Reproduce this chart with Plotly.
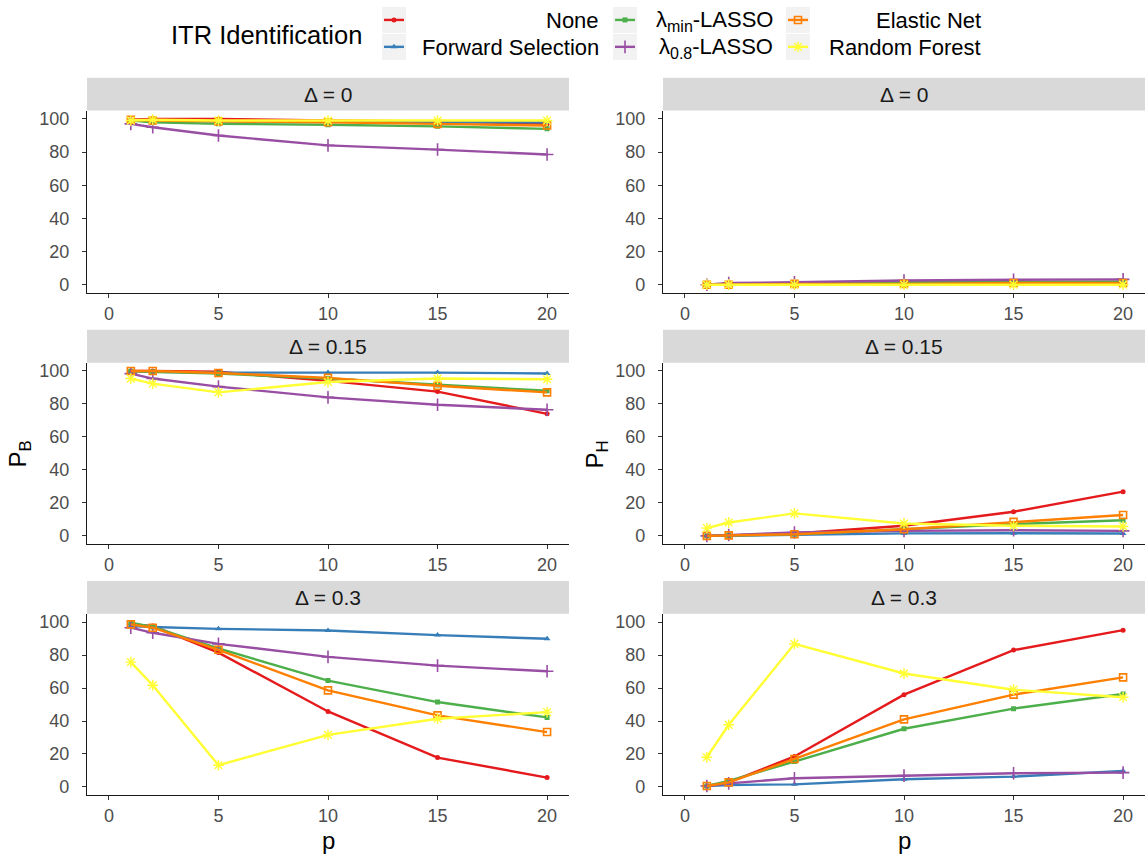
import plotly.graph_objects as go

# Number of covariates on the x axis
p_values = [1, 2, 5, 10, 15, 20]

methods = ["None", "Forward Selection",
           "λ<sub><span style='font-size:16px'>min</span></sub>-LASSO",
           "λ<sub><span style='font-size:16px'>0.8</span></sub>-LASSO",
           "Elastic Net", "Random Forest"]
colors = ["#E41A1C", "#377EB8", "#4DAF4A", "#984EA3", "#FF7F00", "#FFFF33"]
strip_labels = ["Δ = 0", "Δ = 0.15", "Δ = 0.3"]
x_ticks = [0, 5, 10, 15, 20]
y_ticks = [0, 20, 40, 60, 80, 100]

# P_B, one row per method (order as in `methods`)
pb_delta_0 = [
    [99.5, 100, 100, 99, 98.5, 97],
    [99, 99, 98.5, 98.5, 98, 98],
    [99, 98, 97, 96.5, 95.5, 94],
    [97, 95, 90, 84, 81.5, 78.5],
    [99.5, 99, 98.5, 98, 97, 96],
    [99, 99.5, 99, 99, 99, 99],
]
pb_delta_015 = [
    [100, 100, 99.5, 94, 87.5, 74],
    [100, 99.5, 99, 99, 99, 98.5],
    [99.8, 99.4, 98.4, 95.4, 91.5, 88],
    [98.4, 95.4, 90.5, 84, 79.5, 76.5],
    [100, 100, 98.8, 95.8, 91, 87],
    [95.4, 92.3, 87, 93.3, 95.4, 95],
]
pb_delta_03 = [
    [98.6, 97.6, 81.5, 45.8, 17.8, 5.7],
    [97.6, 97, 95.9, 94.9, 92.1, 89.9],
    [99.6, 97, 84, 64.5, 51.5, 42.2],
    [96.6, 93.5, 86.8, 78.9, 73.6, 70.2],
    [98.6, 96.6, 83.2, 58.6, 43.4, 33.3],
    [75.7, 61.7, 13.2, 31.6, 41.4, 45.4],
]

# P_H, one row per method
ph_delta_0 = [
    [0, 0, 0, 0, 0.3, 0.5],
    [0, 0, 0.5, 0.5, 0.5, 1],
    [0, 0.5, 1, 1.5, 1.5, 2],
    [0, 1, 1.5, 2.5, 3, 3.2],
    [0, 0, 0.5, 0.5, 1, 1],
    [0, 0, 0, 0, 0, 0],
]
ph_delta_015 = [
    [0, 0.4, 1.4, 6.1, 14.6, 26.8],
    [0, 0, 0.6, 1.5, 1.6, 1.4],
    [0, 0.3, 1, 4, 7.1, 9.5],
    [0, 0.5, 2, 3, 3.4, 3],
    [0, 0.3, 1, 4, 8.5, 12.6],
    [4.7, 8.1, 13.6, 7.5, 6.1, 5.7],
]
ph_delta_03 = [
    [0.6, 2.8, 18.5, 56, 83, 95.1],
    [0.6, 1.2, 1.6, 4.7, 6.3, 9.7],
    [0.6, 3.7, 15.4, 35.3, 47.5, 56.4],
    [0.6, 2.2, 5.3, 6.9, 8.3, 8.7],
    [0.6, 2.8, 17, 41, 56, 66.5],
    [18, 37.7, 86.8, 68.8, 59, 54.4],
]

panels = [pb_delta_0, ph_delta_0, pb_delta_015, ph_delta_015, pb_delta_03, ph_delta_03]

markers = [
    dict(symbol="circle", size=5),
    dict(symbol="triangle-up", size=6),
    dict(symbol="square", size=5),
    dict(symbol="cross-thin", size=9, line=dict(width=1.6)),
    dict(symbol="square-open", size=7, line=dict(width=1.6)),
    dict(symbol="asterisk", size=9, line=dict(width=1.4)),
]

W, H = 1147, 857
font_family = "Liberation Sans, Arial, sans-serif"

# panel geometry in pixels
col_px = [(87, 569), (663, 1145)]
row_px = [(110, 293), (363, 545), (615, 797)]
strip_h = 33


def px(x):
    return x / W


def py(y):
    return 1 - y / H


def marker_style(m):
    mk = dict(markers[m])
    mk["color"] = colors[m]
    if "line" in mk:
        mk["line"] = dict(mk["line"], color=colors[m])
    return mk


fig = go.Figure()
layout = dict(
    width=W, height=H,
    margin=dict(l=0, r=0, t=0, b=0),
    paper_bgcolor="white", plot_bgcolor="rgba(0,0,0,0)",
    showlegend=False,
    font=dict(family=font_family),
)
shapes = []
annotations = []

for i, data in enumerate(panels):
    r, c = divmod(i, 2)
    k = i + 1
    xa = "x" if k == 1 else f"x{k}"
    ya = "y" if k == 1 else f"y{k}"
    x0, x1 = col_px[c]
    y0, y1 = row_px[r]
    axis_common = dict(
        showline=True, linecolor="#1A1A1A", linewidth=1.1,
        ticks="outside", ticklen=4, tickcolor="#333333", tickwidth=1.1,
        showgrid=False, zeroline=False,
        tickfont=dict(size=18, color="#4D4D4D", family=font_family),
        fixedrange=True,
    )
    layout["xaxis" if k == 1 else f"xaxis{k}"] = dict(
        axis_common, domain=[px(x0), px(x1)], anchor=ya,
        range=[-1, 21], tickvals=x_ticks,
    )
    layout["yaxis" if k == 1 else f"yaxis{k}"] = dict(
        axis_common, domain=[py(y1), py(y0)], anchor=xa,
        range=[-5, 105], tickvals=y_ticks, ticklabelstandoff=9,
    )
    for m, vals in enumerate(data):
        fig.add_trace(go.Scatter(
            x=p_values, y=vals, mode="lines+markers",
            line=dict(color=colors[m], width=2.4),
            marker=marker_style(m), name=methods[m],
            xaxis=xa, yaxis=ya, hoverinfo="skip",
        ))
    # facet strip
    shapes.append(dict(
        type="rect", xref="paper", yref="paper",
        x0=px(x0), x1=px(x1), y0=py(y0), y1=py(y0 - strip_h),
        fillcolor="#D9D9D9", line=dict(width=0), layer="below",
    ))
    annotations.append(dict(
        xref="paper", yref="paper",
        x=px((x0 + x1) / 2), y=py(y0 - strip_h / 2), text=strip_labels[r], showarrow=False,
        font=dict(size=21, color="#1A1A1A", family=font_family),
        xanchor="center", yanchor="middle",
    ))

# overlay axis in pixel units carrying the legend keys
layout["xaxis7"] = dict(domain=[0, 1], range=[0, W], visible=False, anchor="y7", fixedrange=True)
layout["yaxis7"] = dict(domain=[0, 1], range=[H, 0], visible=False, anchor="x7", fixedrange=True)

# axis titles
title_font = dict(size=24, color="black", family=font_family)
annotations += [
    dict(xref="paper", yref="paper", x=px(19), y=py(455), text="P<sub>B</sub>", textangle=-90,
         xanchor="center", yanchor="middle", showarrow=False, font=title_font),
    dict(xref="paper", yref="paper", x=px(596), y=py(455), text="P<sub>H</sub>", textangle=-90,
         xanchor="center", yanchor="middle", showarrow=False, font=title_font),
    dict(xref="paper", yref="paper", x=px((col_px[0][0] + col_px[0][1]) / 2), y=py(842), text="p",
         xanchor="center", yanchor="middle", showarrow=False, font=title_font),
    dict(xref="paper", yref="paper", x=px((col_px[1][0] + col_px[1][1]) / 2), y=py(842), text="p",
         xanchor="center", yanchor="middle", showarrow=False, font=title_font),
]

# legend: three columns, two rows, filled column by column
annotations.append(dict(
    xref="paper", yref="paper", x=px(169), y=py(34), text="ITR Identification",
    xanchor="left", yanchor="middle", showarrow=False,
    font=dict(size=25.5, color="black", family=font_family),
))
key_cx = [394, 625, 798]
key_cy = [19, 46]
label_right = [601, 775, 983]
for m in range(len(methods)):
    col, row = divmod(m, 2)
    cx, cy = key_cx[col], key_cy[row]
    shapes.append(dict(
        type="rect", xref="paper", yref="paper",
        x0=px(cx - 12), x1=px(cx + 12), y0=py(cy + 13), y1=py(cy - 13),
        fillcolor="#F2F2F2", line=dict(width=0), layer="below",
    ))
    fig.add_trace(go.Scatter(
        x=[cx - 10, cx + 10], y=[cy, cy], mode="lines",
        line=dict(color=colors[m], width=2.4),
        xaxis="x7", yaxis="y7", hoverinfo="skip", showlegend=False,
    ))
    fig.add_trace(go.Scatter(
        x=[cx], y=[cy], mode="markers", marker=marker_style(m),
        xaxis="x7", yaxis="y7", hoverinfo="skip", showlegend=False,
    ))
    annotations.append(dict(
        xref="paper", yref="paper", x=px(label_right[col]), y=py(cy + 1), text=methods[m],
        xanchor="right", yanchor="middle", showarrow=False,
        font=dict(size=22, color="black", family=font_family),
    ))

layout["shapes"] = shapes
layout["annotations"] = annotations
fig.update_layout(**layout)

fig.write_html("out.html")
